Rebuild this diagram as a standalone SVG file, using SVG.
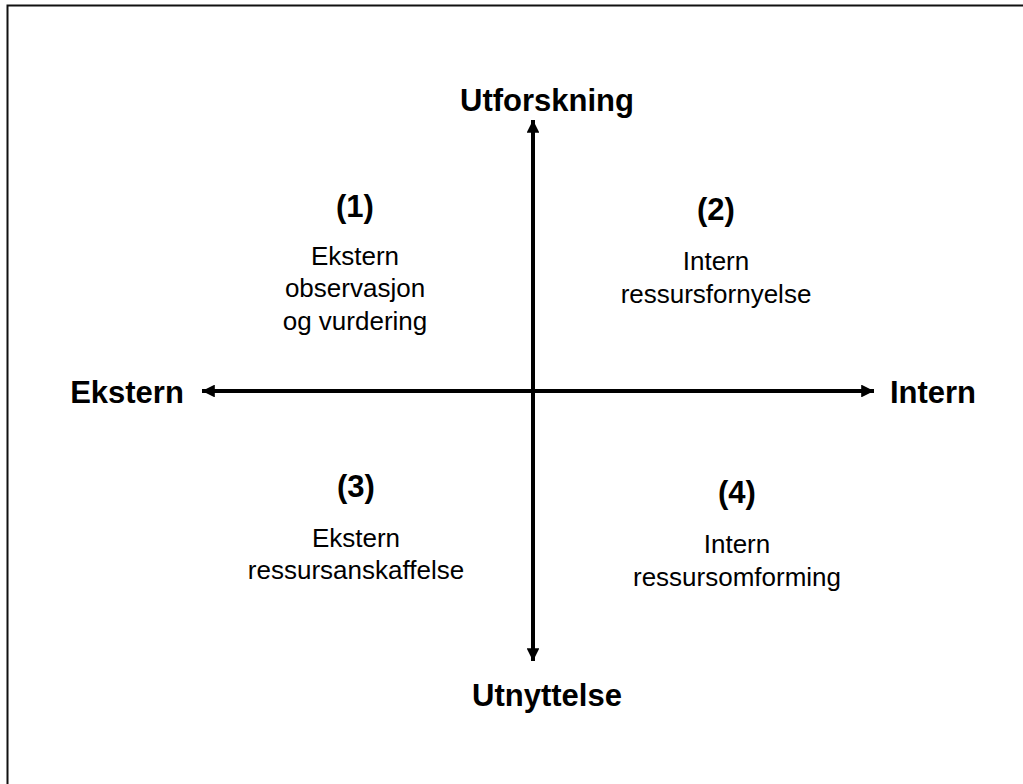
<svg xmlns="http://www.w3.org/2000/svg" width="1023" height="784" viewBox="0 0 1023 784">
<style>
.b{font-family:"Liberation Sans",Arial,sans-serif;font-weight:bold;font-size:31px;fill:#000;text-anchor:middle}
.r{font-family:"Liberation Sans",Arial,sans-serif;font-size:26px;fill:#000;text-anchor:middle}
.ax{stroke:#000;stroke-width:4;fill:none}
</style>
<defs>
<marker id="ah" viewBox="0 0 10 10" refX="10" refY="5" markerWidth="4" markerHeight="3.2" orient="auto-start-reverse" markerUnits="strokeWidth">
<path d="M0,0 L10,5 L0,10 z" fill="#000"/>
</marker>
</defs>
<rect width="1023" height="784" fill="#fff"/>
<path d="M7.5,784 V5.5 H1023" stroke="#111" stroke-width="2" fill="none"/>
<g id="connectors">
<line class="ax" x1="533" y1="661" x2="533" y2="120" marker-start="url(#ah)" marker-end="url(#ah)"/>
<line class="ax" x1="202" y1="391" x2="874" y2="391" marker-start="url(#ah)" marker-end="url(#ah)"/>
</g>
<g id="axis-top"><text class="b" x="547" y="111">Utforskning</text></g>
<g id="axis-bottom"><text class="b" x="547" y="706">Utnyttelse</text></g>
<g id="axis-left"><text class="b" x="127" y="403">Ekstern</text></g>
<g id="axis-right"><text class="b" x="933" y="403">Intern</text></g>
<g id="q1">
<text class="b" x="355" y="217">(1)</text>
<text class="r" x="355" y="265">Ekstern</text>
<text class="r" x="355" y="297">observasjon</text>
<text class="r" x="355" y="330">og vurdering</text>
</g>
<g id="q2">
<text class="b" x="716" y="220">(2)</text>
<text class="r" x="716" y="270">Intern</text>
<text class="r" x="716" y="303">ressursfornyelse</text>
</g>
<g id="q3">
<text class="b" x="356" y="497">(3)</text>
<text class="r" x="356" y="547">Ekstern</text>
<text class="r" x="356" y="579">ressursanskaffelse</text>
</g>
<g id="q4">
<text class="b" x="737" y="503">(4)</text>
<text class="r" x="737" y="553">Intern</text>
<text class="r" x="737" y="586">ressursomforming</text>
</g>
</svg>
